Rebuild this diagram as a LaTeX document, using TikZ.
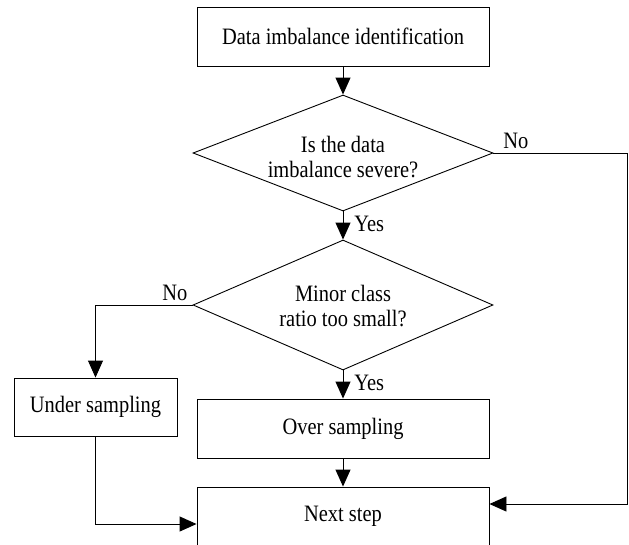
\documentclass[tikz,border=0pt]{standalone}
\usepackage{fontspec}
\setmainfont{Liberation Serif}[FakeStretch=0.87]
\usetikzlibrary{shapes.geometric,arrows.meta}
\begin{document}
\begin{tikzpicture}[x=1pt,y=-1pt,
  font=\fontsize{23.5}{24.5}\selectfont,
  line width=0.9pt,
  box/.style={draw, minimum width=292pt, inner sep=0pt},
  dia/.style={draw, diamond, inner sep=0pt},
  arr/.style={-{Triangle[length=17pt,width=15pt]}},
  lbl/.style={anchor=base west, inner sep=0pt}
]
\useasboundingbox (0,0) rectangle (629,544);
\clip (0,0) rectangle (629,544);

% process boxes
\node[box, minimum height=59pt] (top) at (343,36.5) {Data imbalance identification};
\node[box, minimum height=59pt] (over) at (343,428.5) {Over sampling};
\node[box, minimum height=59pt] (next) at (343,516.5) {Next step};
\node[box, minimum width=163pt, minimum height=58pt] (under) at (95.5,407) {Under sampling};

% decisions
\node[dia, minimum width=300pt, minimum height=116pt] (d1) at (343,153) {};
\node[align=center, inner sep=0pt] (q1) at (343,157) {Is the data\\imbalance severe?};
\node[dia, minimum width=300pt, minimum height=130pt] (d2) at (343,305) {};
\node[align=center, inner sep=0pt] (q2) at (343,306) {Minor class\\ratio too small?};

% helper points
\coordinate (rc) at (627,153);
\coordinate (nR) at ([yshift=12.5pt]next.east);
\coordinate (nL) at ([yshift=-7.5pt]next.west);

% connectors
\draw[arr] (top.south) -- (d1.north);
\draw[arr] (d1.south) -- (d2.north);
\draw[arr] (d2.south) -- (over.north);
\draw[arr] (over.south) -- (next.north);
\draw[arr] (d1.east) -- (rc) |- (nR);
\draw[arr] (d2.west) -| (under.north);
\draw[arr] (under.south) |- (nL);

% branch labels
\node[lbl] (no1) at (503,148) {No};
\node[lbl] (yes1) at (354,231) {Yes};
\node[lbl] (no2) at (162,300) {No};
\node[lbl] (yes2) at (354,390) {Yes};
\end{tikzpicture}
\end{document}
